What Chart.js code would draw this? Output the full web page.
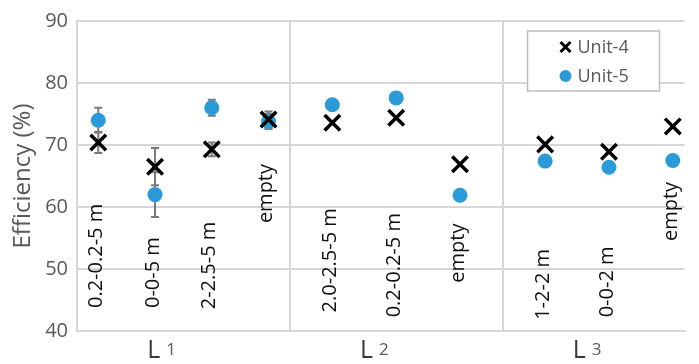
<!DOCTYPE html>
<html>
<head>
<meta charset="utf-8">
<script src="https://cdn.jsdelivr.net/npm/chart.js@4.4.1/dist/chart.umd.min.js"></script>
<style>
  html, body { margin: 0; padding: 0; background: #fff; }
  canvas { display: block; }
</style>
</head>
<body>
<canvas id="effChart" width="699" height="364"></canvas>
<script>
// ===== Data =====
const groupNames    = ['1', '2', '3'];
const categories    = ['0.2-0.2-5 m', '0-0-5 m', '2-2.5-5 m', 'empty',
                       '2.0-2.5-5 m', '0.2-0.2-5 m', 'empty',
                       '1-2-2 m', '0-0-2 m', 'empty'];
const categoryGroup = [0, 0, 0, 0, 1, 1, 1, 2, 2, 2];
const unit4    = [70.4, 66.5, 69.3, 74.1, 73.6, 74.4, 66.9, 70.1, 68.9, 73.0];
const unit5    = [74.0, 62.0, 76.0, 73.8, 76.5, 77.6, 61.9, 67.4, 66.4, 67.5];
const unit4Err = [1.7, 3.0, 1.1, 1.3, null, null, null, null, null, null];
const unit5Err = [2.0, 3.6, 1.3, 1.2, null, null, null, null, null, null];
// value where each rotated category label starts
const labelBase = [43.7, 43.7, 43.5, 57.4, 43.0, 42.2, 47.8, 41.8, 42.2, 54.5];
const yTicks    = [40, 50, 60, 70, 80, 90];

// ===== Layout =====
const FONT       = '"Open Sans", "DejaVu Sans", sans-serif';
const GRID       = '#d6d6d6';
const TEXT_GRAY  = '#595959';
const BLUE       = '#2a9bd8';
const groupInset = [0.1, 0.2, 0.2];   // spread of the slots inside each group
const X_MAX      = 2.855;

// slot position of category i on the x axis (one unit per group)
function slotX(i) {
  const g = categoryGroup[i];
  const members = categoryGroup.map((c, j) => c === g ? j : -1).filter(j => j >= 0);
  const k = members.indexOf(i);
  const n = members.length;
  const inset = groupInset[g];
  return g + inset + k * (1 - 2 * inset) / (n - 1);
}

const pts = arr => arr.map((v, i) => ({ x: slotX(i), y: v }));

// ===== Plugins =====
const errorBars = {
  id: 'errorBars',
  beforeDatasetsDraw(chart) {
    const { ctx, scales: { x, y } } = chart;
    ctx.save();
    ctx.strokeStyle = '#7a7a7a';
    ctx.lineWidth = 2;
    [[unit4, unit4Err], [unit5, unit5Err]].forEach(([vals, errs]) => {
      vals.forEach((v, i) => {
        if (errs[i] == null) return;
        const px = x.getPixelForValue(slotX(i));
        const top = y.getPixelForValue(v + errs[i]);
        const bot = y.getPixelForValue(v - errs[i]);
        ctx.beginPath();
        ctx.moveTo(px, top); ctx.lineTo(px, bot);
        ctx.moveTo(px - 4, top); ctx.lineTo(px + 4, top);
        ctx.moveTo(px - 4, bot); ctx.lineTo(px + 4, bot);
        ctx.stroke();
      });
    });
    ctx.restore();
  }
};

const categoryLabels = {
  id: 'categoryLabels',
  afterDatasetsDraw(chart) {
    const { ctx, scales: { x, y } } = chart;
    ctx.save();
    ctx.fillStyle = '#111';
    ctx.font = '20px ' + FONT;
    ctx.textAlign = 'left';
    ctx.textBaseline = 'middle';
    categories.forEach((label, i) => {
      ctx.save();
      ctx.translate(x.getPixelForValue(slotX(i)) - 2, y.getPixelForValue(labelBase[i]));
      ctx.rotate(-Math.PI / 2);
      ctx.fillText(label, 0, 0);
      ctx.restore();
    });
    ctx.restore();
  }
};

const groupLabels = {
  id: 'groupLabels',
  afterDraw(chart) {
    const { ctx, scales: { x }, chartArea } = chart;
    ctx.save();
    ctx.textBaseline = 'alphabetic';
    ctx.textAlign = 'left';
    groupNames.forEach((name, g) => {
      const px = x.getPixelForValue(g + 0.335);
      const base = chartArea.bottom + 27;
      ctx.font = '25px ' + FONT;
      ctx.fillStyle = '#3a3a3a';
      ctx.fillText('L', px - 1, base);
      ctx.font = '17px ' + FONT;
      ctx.fillStyle = TEXT_GRAY;
      ctx.fillText(name, px + 18, base - 3);
    });
    ctx.restore();
  }
};

const boxLegend = {
  id: 'boxLegend',
  afterDraw(chart) {
    const { ctx, chartArea } = chart;
    const right = chartArea.right - 25, top = chartArea.top + 10;
    const w = 132, h = 60, left = right - w;
    ctx.save();
    ctx.fillStyle = '#fff';
    ctx.fillRect(left, top, w, h);
    ctx.strokeStyle = '#bdbdbd';
    ctx.lineWidth = 1.5;
    ctx.strokeRect(left, top, w, h);

    const mx = left + 38;
    // Unit-4 cross
    const y1 = top + 16;
    ctx.strokeStyle = '#000';
    ctx.lineWidth = 3;
    ctx.beginPath();
    ctx.moveTo(mx - 5, y1 - 5); ctx.lineTo(mx + 5, y1 + 5);
    ctx.moveTo(mx + 5, y1 - 5); ctx.lineTo(mx - 5, y1 + 5);
    ctx.stroke();
    // Unit-5 dot
    const y2 = top + 45;
    ctx.fillStyle = BLUE;
    ctx.beginPath();
    ctx.arc(mx, y2, 6, 0, Math.PI * 2);
    ctx.fill();

    ctx.font = '18px ' + FONT;
    ctx.fillStyle = TEXT_GRAY;
    ctx.textBaseline = 'middle';
    ctx.fillText('Unit-4', mx + 12, y1 + 1);
    ctx.fillText('Unit-5', mx + 12, y2 + 1);
    ctx.restore();
  }
};

// ===== Chart =====
const chartEl = document.getElementById('effChart');
new Chart(chartEl.getContext('2d'), {
  type: 'scatter',
  data: {
    datasets: [
      { label: 'Unit-4', data: pts(unit4), pointStyle: 'crossRot', pointRadius: 11,
        borderColor: '#000', backgroundColor: '#000', pointBorderWidth: 3.5 },
      { label: 'Unit-5', data: pts(unit5), pointStyle: 'circle', pointRadius: 7.5,
        borderColor: BLUE, backgroundColor: BLUE, pointBorderWidth: 0 }
    ]
  },
  options: {
    responsive: false,
    animation: false,
    layout: { padding: { top: 17, right: 0, bottom: 0, left: 0 } },
    plugins: { legend: { display: false }, tooltip: { enabled: false } },
    scales: {
      x: {
        type: 'linear', min: 0, max: X_MAX,
        afterBuildTicks: s => { s.ticks = groupNames.map((_, g) => ({ value: g })); },
        afterFit: s => { s.height = 33; },
        ticks: { display: false },
        grid: { color: GRID, lineWidth: 2, drawTicks: false },
        border: { color: GRID, width: 2 }
      },
      y: {
        min: yTicks[0], max: yTicks[yTicks.length - 1],
        afterBuildTicks: s => { s.ticks = yTicks.map(v => ({ value: v })); },
        afterFit: s => { s.width = 77; },
        ticks: { color: TEXT_GRAY, padding: 9, font: { family: FONT, size: 20 } },
        grid: { color: GRID, lineWidth: 2, drawTicks: false },
        border: { color: GRID, width: 2 },
        title: { display: true, text: 'Efficiency (%)', color: TEXT_GRAY,
                 padding: { top: 9, bottom: 0 }, font: { family: FONT, size: 24 } }
      }
    }
  },
  plugins: [errorBars, categoryLabels, groupLabels, boxLegend]
});
</script>
</body>
</html>
